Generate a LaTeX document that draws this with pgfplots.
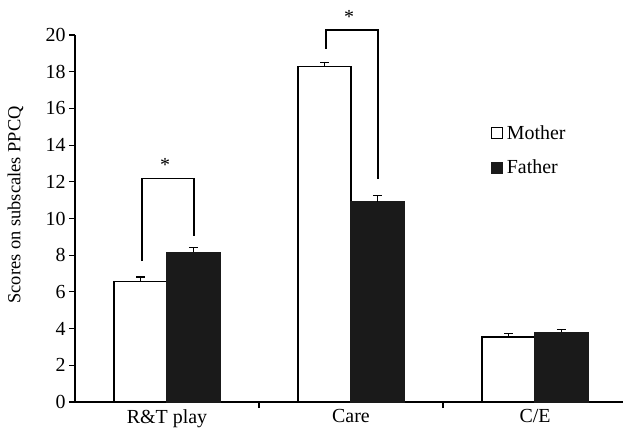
\documentclass[border=0pt]{standalone}
\usepackage{pgfplots}
\pgfplotsset{compat=1.18}
\usepackage{fontspec}
\setmainfont{Liberation Serif}
\definecolor{barblack}{HTML}{1A1A1A}
\begin{document}
\begin{tikzpicture}
\useasboundingbox (-75bp,-35bp) rectangle (548bp,402bp);
\begin{axis}[
  at={(0,0)}, anchor=south west,
  scale only axis,
  width=552bp, height=367bp,
  xmin=-0.5, xmax=2.5,
  ymin=0, ymax=20,
  axis x line=bottom, axis y line=left,
  axis line style={-, line width=1.1bp, black},
  tick style={line width=1.1bp, black},
  tick align=outside,
  major tick length=6bp,
  ytick={0,2,...,20},
  xtick={0.5,1.5}, xticklabels={},
  extra x ticks={0,1,2},
  extra x tick labels={R\&T play,Care,C/E},
  extra x tick style={major tick length=0pt, tick label style={yshift=-4bp}},
  /pgf/number format/assume math mode=true,
  tick label style={font=\fontsize{20}{24}\selectfont, black},
  ylabel={Scores on subscales PPCQ},
  every axis y label/.style={at={(rel axis cs:-0.108,0.537)}, rotate=90, anchor=center, font=\fontsize{18.5}{22}\selectfont},
  clip=false,
  ybar, bar width=0.288, bar shift=0pt,
  legend style={draw=none, fill=none, at={(axis cs:1.762,15.13)}, anchor=north west,
    font=\fontsize{20}{24}\selectfont, row sep=17bp, inner sep=0pt,
    nodes={inner sep=1bp},
    /tikz/every odd column/.append style={column sep=2.5bp}},
  legend cell align=left,
  legend image code/.code={\draw[#1, line width=1bp] (0bp,-5.5bp) rectangle (11bp,5.5bp);},
]
\addplot[draw=black, fill=white, line width=1.1bp,
  error bars/.cd, y dir=plus, y explicit,
  error bar style={line width=1.1bp, black},
  error mark options={rotate=90, black, mark size=4.5bp, line width=1.1bp}]
  coordinates {(-0.144,6.59) +- (0,0.22) (0.856,18.26) +- (0,0.26) (1.856,3.54) +- (0,0.17)};
\addplot[draw=barblack, fill=barblack, line width=1.1bp,
  error bars/.cd, y dir=plus, y explicit,
  error bar style={line width=1.1bp, black},
  error mark options={rotate=90, black, mark size=4.5bp, line width=1.1bp}]
  coordinates {(0.144,8.17) +- (0,0.24) (1.144,10.9) +- (0,0.37) (2.144,3.81) +- (0,0.16)};
\legend{Mother,Father}
\draw[line width=1.1bp] (axis cs:-0.136,7.68) -- (axis cs:-0.136,12.2) -- (axis cs:0.147,12.2) -- (axis cs:0.147,9.05);
\draw[line width=1.1bp] (axis cs:0.864,19.24) -- (axis cs:0.864,20.27) -- (axis cs:1.147,20.27) -- (axis cs:1.147,12.15);
\node[font=\fontsize{20}{24}\selectfont, inner sep=0pt] at (axis cs:-0.01,12.9) {*};
\node[font=\fontsize{20}{24}\selectfont, inner sep=0pt] at (axis cs:0.99,21.0) {*};
\end{axis}
\end{tikzpicture}
\end{document}
